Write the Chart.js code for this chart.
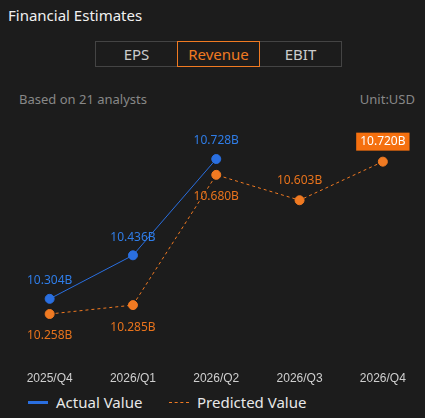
<!DOCTYPE html>
<html><head><meta charset="utf-8">
<script src="https://cdn.jsdelivr.net/npm/chart.js@4"></script>
<style>
body{margin:0;background:#1c1c1c;width:425px;height:418px;overflow:hidden;font-family:"Noto Sans",Arial,sans-serif;position:relative}
.t{position:absolute;left:8px;top:5px;color:#f0f0f0;font-size:15px}
.tabs{position:absolute;left:95px;top:41px;display:flex}
.tab{width:81px;height:24px;border:1px solid #444;color:#ccc;font-size:15px;text-align:center;line-height:24px;box-sizing:content-box;margin-right:-1px}
.tab.s{border-color:#f07a22;color:#f07a22;position:relative;z-index:2}
.sub{position:absolute;top:90px;color:#888;font-size:13px}
#wrap{position:absolute;left:0;top:110px;width:430px;height:280px}
.lg{position:absolute;top:392px;color:#e8e8e8;font-size:15px;display:flex;align-items:center}
</style></head><body>
<div class="t">Financial Estimates</div>
<div class="tabs"><div class="tab">EPS</div><div class="tab s">Revenue</div><div class="tab">EBIT</div></div>
<div class="sub" style="left:19px">Based on 21 analysts</div>
<div class="sub" style="right:10px">Unit:USD</div>
<div id="wrap"><canvas id="c"></canvas></div>
<div class="lg" style="left:28px"><span style="display:inline-block;width:20px;height:3px;background:#2a6fe0;margin-right:8px"></span>Actual Value</div>
<div class="lg" style="left:169px"><span style="display:inline-block;width:20px;border-top:1px dashed #f07a22;margin-right:8px"></span>Predicted Value</div>
<script>
const categories=["2025/Q4","2026/Q1","2026/Q2","2026/Q3","2026/Q4"];
const actual=[10.304,10.436,10.728,null,null];
const predicted=[10.258,10.285,10.680,10.603,10.720];
const actualLabels=["10.304B","10.436B","10.728B"];
const predictedLabels=["10.258B","10.285B","10.680B","10.603B","10.720B"];
const predAbove=[false,false,false,true,true];
const lbl={id:'lbl',afterDatasetsDraw(ch){
 const ctx=ch.ctx;ctx.save();ctx.font='12px "Noto Sans",Arial';ctx.textAlign='center';ctx.textBaseline='middle';
 ch.getDatasetMeta(0).data.forEach((p,i)=>{if(actual[i]==null)return;ctx.fillStyle='#2f7de8';ctx.fillText(actualLabels[i],p.x,p.y-18);});
 ch.getDatasetMeta(1).data.forEach((p,i)=>{
  const y=predAbove[i]?p.y-20:p.y+22;
  if(i===predicted.length-1){const w=ctx.measureText(predictedLabels[i]).width+8;ctx.fillStyle='#f5700f';ctx.fillRect(p.x-w/2,y-9,w,18);ctx.fillStyle='#fff';}
  else ctx.fillStyle='#e8731c';
  ctx.fillText(predictedLabels[i],p.x,y);});
 ctx.restore();}};
new Chart(document.getElementById('c'),{type:'line',
 data:{labels:categories,datasets:[
  {data:actual,borderColor:'#2a6fe0',backgroundColor:'#2a6fe0',borderWidth:1,pointRadius:4.5,pointHoverRadius:4.5},
  {data:predicted,borderColor:'#f07a22',backgroundColor:'#f07a22',borderWidth:1,borderDash:[3,3],pointRadius:4.5,pointHoverRadius:4.5}]},
 options:{animation:false,responsive:true,maintainAspectRatio:false,events:[],
  layout:{padding:{left:8,right:0,top:20,bottom:0}},
  plugins:{legend:{display:false},tooltip:{enabled:false}},
  scales:{x:{offset:true,grid:{display:false},border:{display:false},ticks:{color:'#cfcfcf',font:{size:12},padding:18},afterFit(s){s.height=45;}},
   y:{display:false,min:10.164,max:10.816}}},
 plugins:[lbl]});
</script></body></html>
